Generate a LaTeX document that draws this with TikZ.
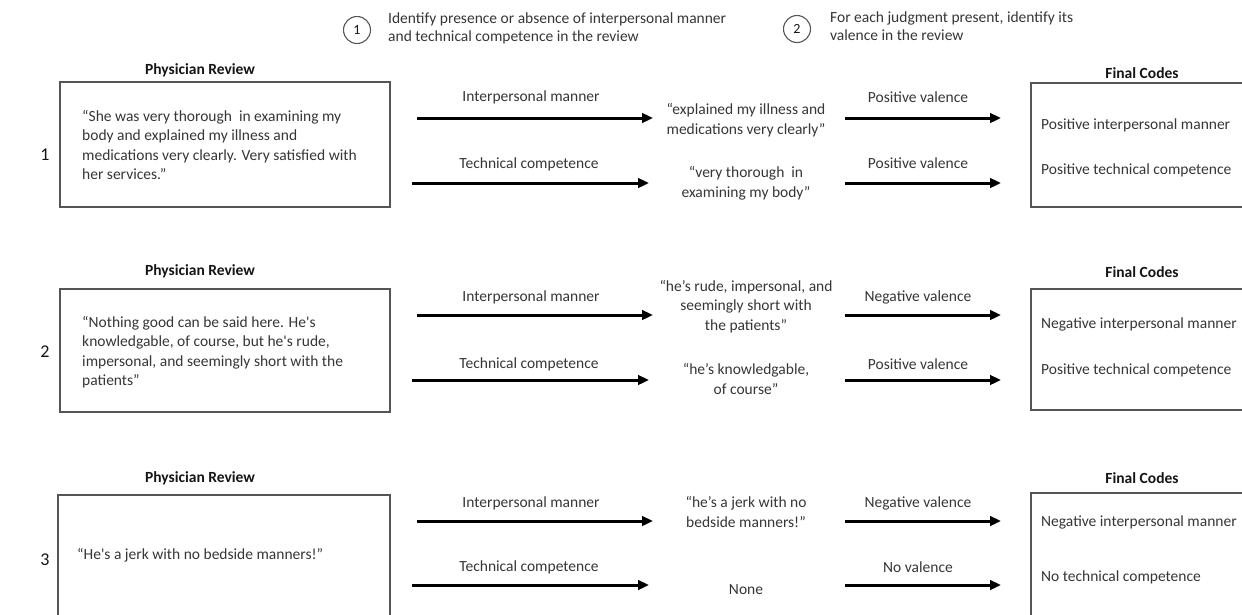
\documentclass[tikz,border=0pt]{standalone}
\usepackage{fontspec}
\setmainfont{Carlito}
\usetikzlibrary{arrows.meta}
\definecolor{txt}{HTML}{363636}
\definecolor{hdrc}{HTML}{151515}
\definecolor{boxc}{HTML}{555555}
\tikzset{
 every node/.style={font=\fontsize{15.5}{19.5}\selectfont, text=txt, inner sep=0pt},
 hdr/.style={font=\fontsize{15.5}{19}\selectfont\bfseries, text=hdrc},
 rbox/.style={draw=boxc, line width=1.3pt, rectangle},
 arr/.style={line width=3pt, -{Triangle[length=11pt,width=9.5pt]}, draw=black},
 body/.style={align=left, anchor=west},
 mid/.style={align=center},
 top/.style={align=left, anchor=west, font=\fontsize{15.5}{17.5}\selectfont},
 num/.style={font=\fontsize{18}{20}\selectfont, text=hdrc},
 circ/.style={circle, draw=boxc, line width=1.1pt, minimum size=27pt, font=\fontsize{14}{15}\selectfont, text=hdrc},
}
\begin{document}
\begin{tikzpicture}[x=1pt,y=-1pt]
\clip (0,0) rectangle (1242,614);
\fill[white] (0,0) rectangle (1242,614);
% header
\node[circ] (c1) at (357,30) {1};
\node[top] (t1) at (388,28.5) {Identify presence or absence of interpersonal manner\\and technical competence in the review};
\node[circ] (c2) at (797,29) {2};
\node[top] (t2) at (830,26) {For each judgment present, identify its\\valence in the review};

% ---------- Row 1 ----------
\node[num] (n1) at (45,155) {1};
\node[hdr] (ph1) at (200,70) {Physician Review};
\node[rbox, minimum width=330pt, minimum height=125pt] (rev1) at (225,144.5) {};
\node[body] (rt1) at (82,145) {“She was very thorough\ \ in examining my\\body and explained my illness and\\medications very clearly. Very satisfied with\\her services.”};
\coordinate (a1s) at (417,118); \coordinate (a1e) at (653,118);
\coordinate (b1s) at (412,183); \coordinate (b1e) at (649,183);
\draw[arr] (a1s) -- (a1e);
\draw[arr] (b1s) -- (b1e);
\node (la1) at (531,97) {Interpersonal manner};
\node (lb1) at (529,164) {Technical competence};
\node[mid] (q1a) at (746,120) {“explained my illness and\\medications very clearly”};
\node[mid] (q1b) at (746,183) {“very thorough\ \ in\\examining my body”};
\coordinate (v1s) at (845,118); \coordinate (v1e) at (1001,118);
\coordinate (w1s) at (845,183); \coordinate (w1e) at (1001,183);
\draw[arr] (v1s) -- (v1e);
\draw[arr] (w1s) -- (w1e);
\node (lv1) at (918,97) {Positive valence};
\node (lw1) at (918,163) {Positive valence};
\node[hdr] (fc1) at (1142,73) {Final Codes};
\node[rbox, minimum width=220pt, minimum height=124pt] (fb1) at (1141,145) {};
\node[body] (f1a) at (1041,125) {Positive interpersonal manner};
\node[body] (f1b) at (1041,170) {Positive technical competence};

% ---------- Row 2 ----------
\node[num] (n2) at (45,352) {2};
\node[hdr] (ph2) at (200,271) {Physician Review};
\node[rbox, minimum width=330pt, minimum height=123pt] (rev2) at (225,350.5) {};
\node[body] (rt2) at (82,352) {“Nothing good can be said here. He\textquotesingle s\\knowledgable, of course, but he\textquotesingle s rude,\\impersonal, and seemingly short with the\\patients”};
\coordinate (a2s) at (417,315); \coordinate (a2e) at (653,315);
\coordinate (b2s) at (412,380); \coordinate (b2e) at (649,380);
\draw[arr] (a2s) -- (a2e);
\draw[arr] (b2s) -- (b2e);
\node (la2) at (531,297) {Interpersonal manner};
\node (lb2) at (529,364) {Technical competence};
\node[mid] (q2a) at (746,306.5) {“he’s rude, impersonal, and\\seemingly short with\\the patients”};
\node[mid] (q2b) at (746,379) {“he’s knowledgable,\\of course”};
\coordinate (v2s) at (845,315); \coordinate (v2e) at (1001,315);
\coordinate (w2s) at (845,380); \coordinate (w2e) at (1001,380);
\draw[arr] (v2s) -- (v2e);
\draw[arr] (w2s) -- (w2e);
\node (lv2) at (918,297) {Negative valence};
\node (lw2) at (918,364) {Positive valence};
\node[hdr] (fc2) at (1142,272) {Final Codes};
\node[rbox, minimum width=220pt, minimum height=121pt] (fb2) at (1141,349.5) {};
\node[body] (f2a) at (1041,324) {Negative interpersonal manner};
\node[body] (f2b) at (1041,370) {Positive technical competence};

% ---------- Row 3 ----------
\node[num] (n3) at (45,560) {3};
\node[hdr] (ph3) at (200,478) {Physician Review};
\node[rbox, minimum width=332pt, minimum height=150pt] (rev3) at (224,570) {};
\node[body] (rt3) at (77,555) {“He\textquotesingle s a jerk with no bedside manners!”};
\coordinate (a3s) at (417,521); \coordinate (a3e) at (653,521);
\coordinate (b3s) at (412,585); \coordinate (b3e) at (649,585);
\draw[arr] (a3s) -- (a3e);
\draw[arr] (b3s) -- (b3e);
\node (la3) at (531,503) {Interpersonal manner};
\node (lb3) at (529,567) {Technical competence};
\node[mid] (q3a) at (746,512) {“he’s a jerk with no\\bedside manners!”};
\node[mid] (q3b) at (746,590) {None};
\coordinate (v3s) at (845,521); \coordinate (v3e) at (1001,521);
\coordinate (w3s) at (845,585); \coordinate (w3e) at (1001,585);
\draw[arr] (v3s) -- (v3e);
\draw[arr] (w3s) -- (w3e);
\node (lv3) at (918,503) {Negative valence};
\node (lw3) at (918,567) {No valence};
\node[hdr] (fc3) at (1142,478) {Final Codes};
\node[rbox, minimum width=220pt, minimum height=150pt] (fb3) at (1141,568) {};
\node[body] (f3a) at (1041,522) {Negative interpersonal manner};
\node[body] (f3b) at (1041,577) {No technical competence};
\end{tikzpicture}
\end{document}
